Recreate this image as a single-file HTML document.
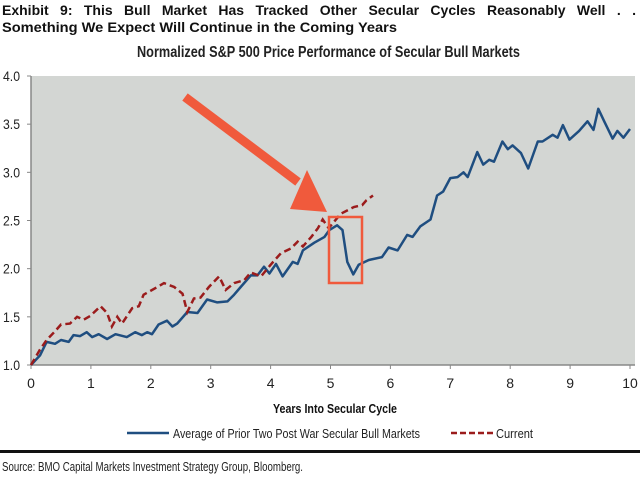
<!DOCTYPE html>
<html><head><meta charset="utf-8"><style>
body{margin:0;background:#fff;width:640px;height:478px;overflow:hidden;position:relative}
svg{display:block}
text{font-family:"Liberation Sans",Arial,sans-serif}
#hdr1{position:absolute;left:2px;top:2px;width:634px;font:bold 14px "Liberation Sans",Arial,sans-serif;color:#111;text-align:justify;text-align-last:justify;white-space:nowrap;line-height:17px}
</style></head><body>
<div id="hdr1">Exhibit 9: This Bull Market Has Tracked Other Secular Cycles Reasonably Well . .</div>
<svg id="chart" width="640" height="478" xmlns="http://www.w3.org/2000/svg">
<text x="2" y="32" font-size="14" font-weight="bold" textLength="395" lengthAdjust="spacingAndGlyphs" fill="#111">Something We Expect Will Continue in the Coming Years</text>
<text x="137" y="57" font-size="16" font-weight="bold" textLength="383" lengthAdjust="spacingAndGlyphs" fill="#222">Normalized S&amp;P 500 Price Performance of Secular Bull Markets</text>
<rect x="31" y="76" width="604" height="289" fill="#d3d6d3"/>
<g id="axes"></g>
<g id="series"></g>
<path d="M185,97 L298,182" stroke="#f05a3c" stroke-width="9" fill="none"/>
<polygon points="307,170 290,209 327,212" fill="#f05a3c"/>
<rect x="329" y="217" width="33" height="66" fill="none" stroke="#f05a3c" stroke-width="2.5"/>
<text x="335" y="413" font-size="13" font-weight="bold" text-anchor="middle" textLength="124" lengthAdjust="spacingAndGlyphs" fill="#111">Years Into Secular Cycle</text>
<g>
<line x1="127" y1="433" x2="169" y2="433" stroke="#1f4e80" stroke-width="2.5"/>
<text x="173" y="438" font-size="13" textLength="247" lengthAdjust="spacingAndGlyphs" fill="#222">Average of Prior Two Post War Secular Bull Markets</text>
</g>
<g>
<line x1="451" y1="433" x2="494" y2="433" stroke="#9b1c1c" stroke-width="2.5" stroke-dasharray="6,3"/>
<text x="496" y="438" font-size="13" textLength="37" lengthAdjust="spacingAndGlyphs" fill="#222">Current</text>
</g>
<rect x="0" y="450" width="640" height="3" fill="#111"/>
<text x="2" y="471" font-size="13" textLength="301" lengthAdjust="spacingAndGlyphs" fill="#222">Source: BMO Capital Markets Investment Strategy Group, Bloomberg.</text>
</svg>
<script>
const xTicks=[0,1,2,3,4,5,6,7,8,9,10];
const yTicks=[1.0,1.5,2.0,2.5,3.0,3.5,4.0];
const avgYears=[0,0.15,0.26,0.4,0.5,0.63,0.71,0.82,0.93,1.02,1.13,1.27,1.41,1.6,1.74,1.85,1.94,2.02,2.13,2.27,2.36,2.44,2.61,2.78,2.94,3.11,3.28,3.39,3.5,3.67,3.78,3.89,3.98,4.09,4.2,4.37,4.45,4.54,4.73,4.9,4.98,5.11,5.2,5.28,5.38,5.47,5.64,5.86,5.97,6.12,6.28,6.37,6.5,6.67,6.78,6.88,7.0,7.12,7.22,7.29,7.45,7.55,7.65,7.73,7.87,7.96,8.04,8.18,8.3,8.46,8.54,8.71,8.79,8.88,8.99,9.15,9.29,9.39,9.47,9.57,9.71,9.79,9.89,10.0];
const avgValues=[1.0,1.1,1.24,1.22,1.26,1.24,1.31,1.3,1.34,1.29,1.32,1.27,1.32,1.29,1.34,1.31,1.34,1.32,1.42,1.46,1.4,1.43,1.55,1.54,1.68,1.65,1.66,1.73,1.81,1.93,1.93,2.02,1.95,2.05,1.92,2.07,2.05,2.19,2.27,2.33,2.4,2.45,2.4,2.07,1.94,2.04,2.09,2.12,2.22,2.19,2.35,2.33,2.44,2.51,2.76,2.8,2.94,2.95,3.0,2.95,3.21,3.08,3.13,3.11,3.32,3.24,3.28,3.2,3.04,3.32,3.32,3.39,3.36,3.49,3.34,3.43,3.53,3.44,3.66,3.53,3.35,3.43,3.36,3.45];
const curYears=[0,0.15,0.26,0.4,0.5,0.65,0.77,0.88,0.99,1.16,1.27,1.35,1.44,1.52,1.69,1.8,1.88,2.11,2.22,2.39,2.53,2.61,2.72,2.83,2.97,3.14,3.25,3.39,3.56,3.67,3.84,4.0,4.17,4.34,4.45,4.54,4.68,4.79,4.87,4.97,5.17,5.39,5.53,5.6,5.71];
const curValues=[1.0,1.16,1.26,1.35,1.42,1.43,1.5,1.47,1.51,1.61,1.54,1.4,1.5,1.43,1.59,1.61,1.73,1.81,1.85,1.81,1.74,1.55,1.69,1.7,1.81,1.92,1.78,1.85,1.88,1.96,1.92,2.04,2.16,2.21,2.28,2.23,2.33,2.42,2.51,2.42,2.57,2.64,2.66,2.71,2.76];
const X0=31,X1=630,Y0=365,Y1=76;
function sx(v){return X0+(X1-X0)*v/10;}
function sy(v){return Y0-(Y0-Y1)*(v-1)/3;}
const NS="http://www.w3.org/2000/svg";
const axes=document.getElementById('axes');
const series=document.getElementById('series');
function mk(tag,attrs,parent){const e=document.createElementNS(NS,tag);for(const k in attrs)e.setAttribute(k,attrs[k]);parent.appendChild(e);return e;}
let a=mk('line',{x1:X0,y1:Y1,x2:X0,y2:Y0,stroke:'#888','stroke-width':1.5},axes);


a=mk('line',{x1:X0,y1:Y0,x2:635,y2:Y0,stroke:'#888','stroke-width':1.5},axes);


yTicks.forEach(v=>{
  mk('line',{x1:X0-4,y1:sy(v),x2:X0,y2:sy(v),stroke:'#888'},axes);
  const t=mk('text',{x:20,y:sy(v)+5,'font-size':14,'text-anchor':'end',fill:'#222',textLength:17,lengthAdjust:'spacingAndGlyphs'},axes);
  t.textContent=v.toFixed(1);
  
  
});
xTicks.forEach(v=>{
  mk('line',{x1:sx(v),y1:Y0,x2:sx(v),y2:Y0+4,stroke:'#888'},axes);
  const t=mk('text',{x:sx(v),y:388,'font-size':14,'text-anchor':'middle',fill:'#222'},axes);
  t.textContent=v;
  
  
});
function pts(xs,ys){return xs.map((x,i)=>sx(x).toFixed(1)+','+sy(ys[i]).toFixed(1)).join(' ');}
let p=mk('polyline',{points:pts(avgYears,avgValues),fill:'none',stroke:'#1f4e80','stroke-width':2.5,'stroke-linejoin':'round'},series);


p=mk('polyline',{points:pts(curYears,curValues),fill:'none',stroke:'#9b1c1c','stroke-width':2.5,'stroke-dasharray':'7,4'},series);


</script>
</body></html>
